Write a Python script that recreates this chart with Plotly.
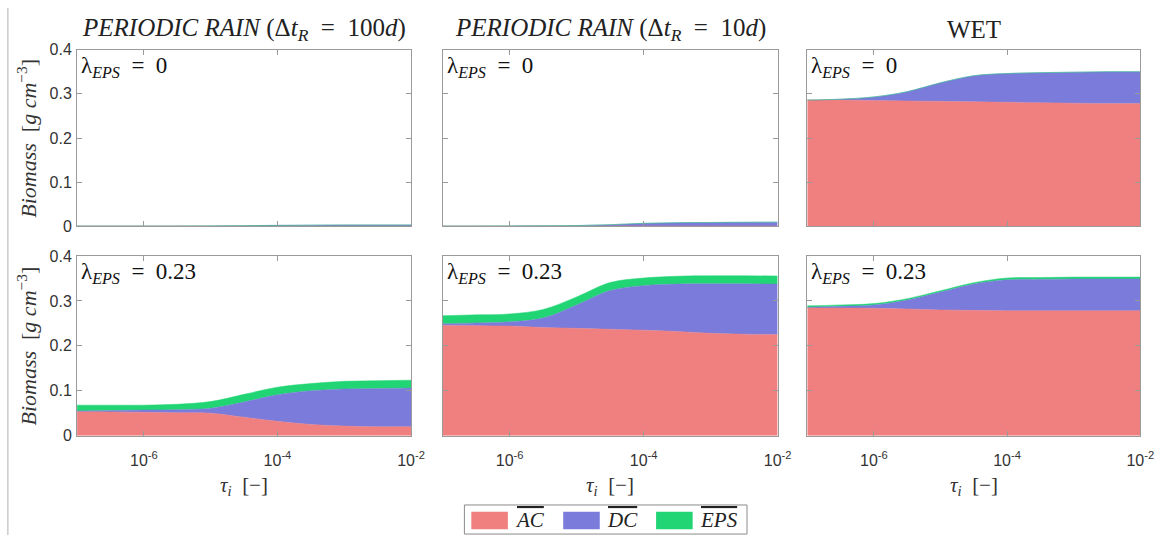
import plotly.graph_objects as go

W, H = 1176, 544

# ---------------- data ----------------
tau = [1e-7, 3.16e-7, 1e-6, 3.16e-6, 1e-5, 3.16e-5, 1e-4, 3.16e-4, 1e-3, 3.16e-3, 1e-2]

col_titles = ['<i>PERIODIC RAIN</i> (Δ<i>t</i><sub><i>R</i></sub>\u2002=\u2002100<i>d</i>)',
              '<i>PERIODIC RAIN</i> (Δ<i>t</i><sub><i>R</i></sub>\u2002=\u200210<i>d</i>)',
              'WET']
row_labels = ['λ<sub><i>EPS</i></sub>\u2002=\u20020', 'λ<sub><i>EPS</i></sub>\u2002=\u20020.23']

# row 1 (lambda_EPS = 0)
ac_p100_l0 = [0.001, 0.001, 0.001, 0.001, 0.001, 0.001, 0.001, 0.001, 0.001, 0.001, 0.001]
dc_p100_l0 = [0.0, 0.0, 0.0, 0.0, 0.0003, 0.0008, 0.0015, 0.002, 0.0025, 0.0025, 0.0025]
eps_p100_l0 = [0.0] * 11

ac_p10_l0 = [0.001, 0.001, 0.001, 0.001, 0.001, 0.001, 0.001, 0.001, 0.001, 0.001, 0.001]
dc_p10_l0 = [0.0, 0.0, 0.0002, 0.0005, 0.001, 0.003, 0.006, 0.0075, 0.008, 0.0085, 0.0088]
eps_p10_l0 = [0.0] * 11

ac_wet_l0 = [0.286, 0.286, 0.285, 0.284, 0.283, 0.282, 0.281, 0.280, 0.279, 0.278, 0.278]
dc_wet_l0 = [0.000, 0.002, 0.008, 0.021, 0.042, 0.059, 0.065, 0.068, 0.070, 0.072, 0.072]
eps_wet_l0 = [0.0] * 11

# row 2 (lambda_EPS = 0.23)
ac_p100_l1 = [0.054, 0.053, 0.052, 0.051, 0.050, 0.041, 0.032, 0.025, 0.0215, 0.020, 0.020]
dc_p100_l1 = [0.001, 0.003, 0.005, 0.007, 0.011, 0.034, 0.059, 0.075, 0.0825, 0.085, 0.086]
eps_p100_l1 = [0.013, 0.012, 0.011, 0.012, 0.015, 0.017, 0.017, 0.016, 0.017, 0.0175, 0.0175]

ac_p10_l1 = [0.246, 0.245, 0.244, 0.241, 0.239, 0.237, 0.235, 0.232, 0.228, 0.226, 0.225]
dc_p10_l1 = [0.003, 0.006, 0.0095, 0.021, 0.052, 0.086, 0.099, 0.1055, 0.110, 0.112, 0.1125]
eps_p10_l1 = [0.018, 0.018, 0.0175, 0.019, 0.018, 0.018, 0.017, 0.0175, 0.018, 0.018, 0.018]

ac_wet_l1 = [0.285, 0.284, 0.2837, 0.282, 0.280, 0.279, 0.278, 0.278, 0.278, 0.278, 0.278]
dc_wet_l1 = [0.001, 0.004, 0.0073, 0.020, 0.0396, 0.0585, 0.069, 0.070, 0.071, 0.071, 0.071]
eps_wet_l1 = [0.003, 0.003, 0.003, 0.003, 0.003, 0.003, 0.004, 0.004, 0.004, 0.004, 0.004]

panels = [
    (ac_p100_l0, dc_p100_l0, eps_p100_l0),
    (ac_p10_l0, dc_p10_l0, eps_p10_l0),
    (ac_wet_l0, dc_wet_l0, eps_wet_l0),
    (ac_p100_l1, dc_p100_l1, eps_p100_l1),
    (ac_p10_l1, dc_p10_l1, eps_p10_l1),
    (ac_wet_l1, dc_wet_l1, eps_wet_l1),
]

series_names = ['AC', 'DC', 'EPS']
series_colors = ['#F07F7F', '#7B7BDC', '#21D474']

y_ticks = [0, 0.1, 0.2, 0.3, 0.4]
y_ticktext = ['0', '0.1', '0.2', '0.3', '0.4']
x_ticks = [1e-6, 1e-4, 1e-2]
x_ticktext = ['10<sup>-6</sup>', '10<sup>-4</sup>', '10<sup>-2</sup>']

# ---------------- layout geometry (pixels) ----------------
col_px = [(78, 416), (448, 787), (817, 1154)]
row_px = [(43, 225.5), (256, 441.5)]

def px_x(v):
    return v / W

def px_y(v):
    return 1 - v / H

serif = 'Liberation Serif, Times New Roman, DejaVu Serif, serif'
sans = 'Liberation Sans, Arial, DejaVu Sans, sans-serif'

fig = go.Figure()

for p, (ac, dc, eps) in enumerate(panels):
    r, c = divmod(p, 3)
    idx = '' if p == 0 else str(p + 1)
    for k, vals in enumerate((ac, dc, eps)):
        fig.add_trace(go.Scatter(
            x=tau, y=vals, xaxis='x' + idx, yaxis='y' + idx,
            mode='lines', stackgroup='s%d' % p,
            line=dict(width=0.5, color=series_colors[k], shape='spline', smoothing=1.0),
            fillcolor=series_colors[k],
            name=series_names[k], legendgroup=str(k),
            showlegend=False, hoverinfo='skip'))

axis_common = dict(showgrid=False, zeroline=False, showline=True, linecolor='#9a9a9a',
                   linewidth=1, mirror='ticks', ticks='inside', ticklen=5,
                   tickcolor='#9a9a9a', tickfont=dict(family=sans, size=16, color='#333'))

layout = {}
for p in range(6):
    r, c = divmod(p, 3)
    idx = '' if p == 0 else str(p + 1)
    x0, x1 = col_px[c]
    y0, y1 = row_px[r]
    layout['xaxis' + idx] = dict(axis_common, type='log', range=[-7, -2],
                                 domain=[px_x(x0), px_x(x1)], anchor='y' + idx,
                                 tickvals=x_ticks, ticktext=x_ticktext,
                                 showticklabels=(r == 1), ticklabelstandoff=10)
    layout['yaxis' + idx] = dict(axis_common, range=[0, 0.4],
                                 domain=[px_y(y1), px_y(y0)], anchor='x' + idx,
                                 tickvals=y_ticks, ticktext=y_ticktext,
                                 showticklabels=(c == 0), ticklabelstandoff=1)

annotations = []
for c in range(3):
    x0, x1 = col_px[c]
    annotations.append(dict(text=col_titles[c], xref='paper', yref='paper',
                            x=px_x((x0 + x1) / 2), y=px_y(22), xanchor='center', yanchor='middle',
                            showarrow=False, font=dict(family=serif, size=25, color='#222')))
    annotations.append(dict(text='<i>τ</i><sub><i>i</i></sub>\u2002[−]', xref='paper', yref='paper',
                            x=px_x((x0 + x1) / 2), y=px_y(493), xanchor='center', yanchor='middle',
                            showarrow=False, font=dict(family=serif, size=21, color='#333')))
for r in range(2):
    y0, y1 = row_px[r]
    annotations.append(dict(text='<i>Biomass</i>\u2002[<i>g cm</i><sup>−3</sup>]', xref='paper', yref='paper',
                            x=px_x(27), y=px_y((y0 + y1) / 2), xanchor='center', yanchor='middle',
                            textangle=-90, showarrow=False,
                            font=dict(family=serif, size=22, color='#333')))
    for c in range(3):
        x0, x1 = col_px[c]
        annotations.append(dict(text=row_labels[r], xref='paper', yref='paper',
                                x=px_x(x0 + 2), y=px_y(y0 + 1), xanchor='left', yanchor='top',
                                showarrow=False, font=dict(family=serif, size=23, color='#111')))

# custom legend (box, swatches, labels)
shapes = [dict(type='line', xref='paper', yref='paper', x0=px_x(8), x1=px_x(8), y0=0, y1=1,
               line=dict(color='#b0b0b0', width=1)),
          dict(type='rect', xref='paper', yref='paper', x0=px_x(470), x1=px_x(756),
               y0=px_y(543), y1=px_y(513), line=dict(color='#8a8a8a', width=1), fillcolor='white')]
sw_x = [477, 570, 664]
tx_x = [519, 612, 706]
for k in range(3):
    shapes.append(dict(type='rect', xref='paper', yref='paper', x0=px_x(sw_x[k]), x1=px_x(sw_x[k] + 37),
                       y0=px_y(538), y1=px_y(520), line=dict(width=0), fillcolor=series_colors[k]))
    annotations.append(dict(text='<span style="text-decoration:overline"><i>%s</i></span>' % series_names[k],
                            xref='paper', yref='paper', x=px_x(tx_x[k]), y=px_y(529),
                            xanchor='left', yanchor='middle', showarrow=False,
                            font=dict(family=serif, size=21, color='#222')))

fig.update_layout(
    width=W, height=H, margin=dict(l=0, r=0, t=0, b=0),
    paper_bgcolor='white', plot_bgcolor='white',
    annotations=annotations, shapes=shapes, showlegend=False,
    **layout)

fig.write_html('out.html')
